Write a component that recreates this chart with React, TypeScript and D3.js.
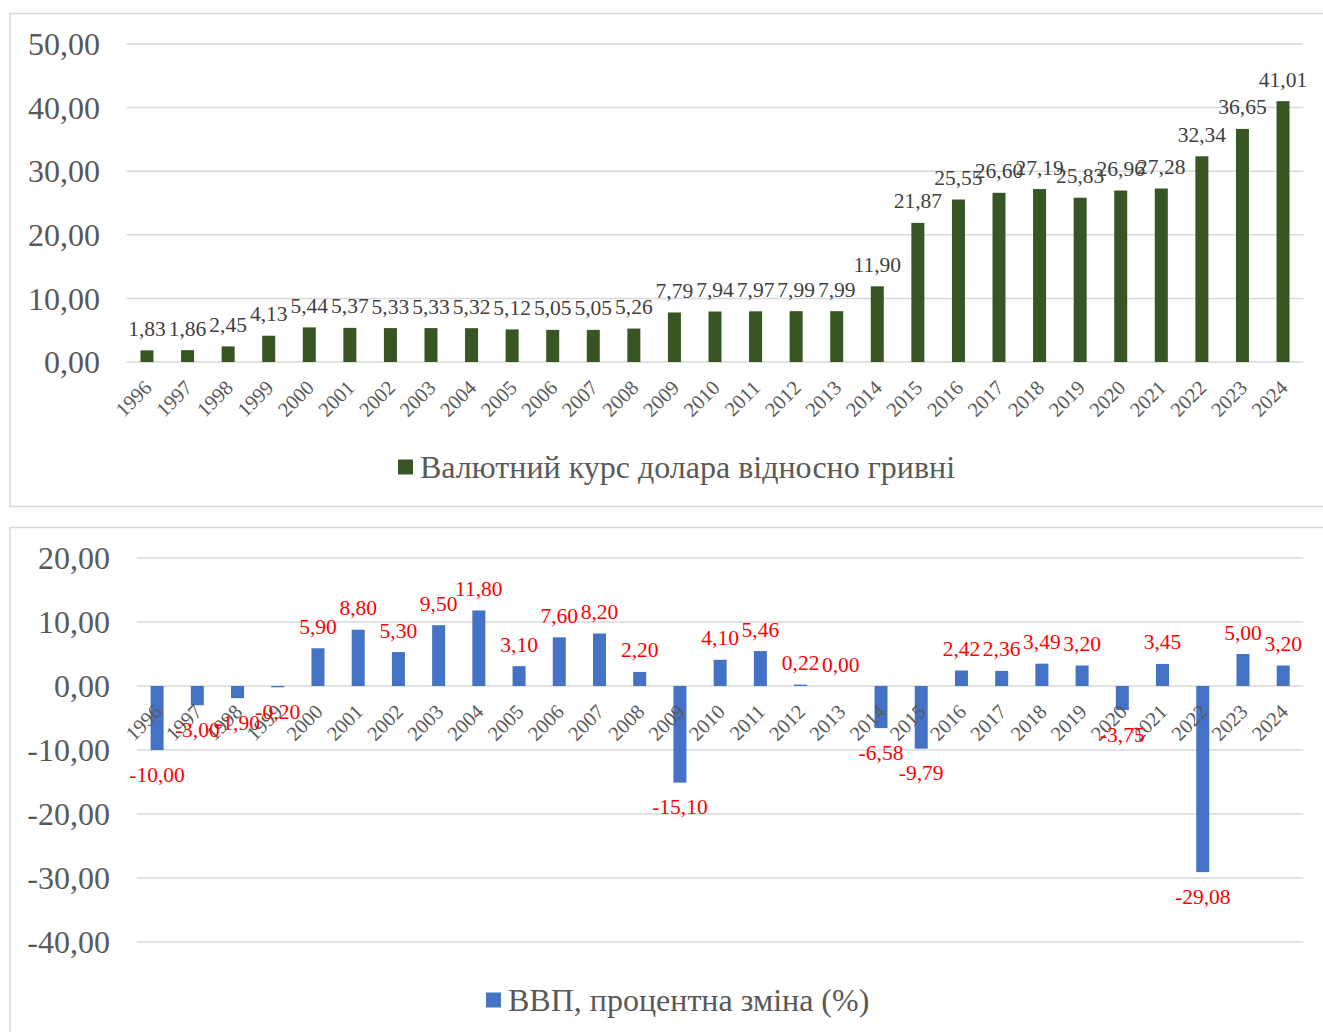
import React from "react";
import * as d3 from "d3";

const years = ["1996","1997","1998","1999","2000","2001","2002","2003","2004","2005","2006","2007","2008","2009","2010","2011","2012","2013","2014","2015","2016","2017","2018","2019","2020","2021","2022","2023","2024"];
const exchangeRate = [1.83,1.86,2.45,4.13,5.44,5.37,5.33,5.33,5.32,5.12,5.05,5.05,5.26,7.79,7.94,7.97,7.99,7.99,11.90,21.87,25.55,26.60,27.19,25.83,26.96,27.28,32.34,36.65,41.01];
const gdpChange = [-10.00,-3.00,-1.90,-0.20,5.90,8.80,5.30,9.50,11.80,3.10,7.60,8.20,2.20,-15.10,4.10,5.46,0.22,0.00,-6.58,-9.79,2.42,2.36,3.49,3.20,-3.75,3.45,-29.08,5.00,3.20];
const topTicks = [0,10,20,30,40,50];
const bottomTicks = [-40,-30,-20,-10,0,10,20];
const topLegend = "Валютний курс долара відносно гривні";
const bottomLegend = "ВВП, процентна зміна (%)";

const fmt = (v: number) => v.toFixed(2).replace(".", ",");
const FONT = "'Liberation Serif', 'Times New Roman', serif";

function Panel({ values, ticks, domain, yRange, xRange, color, labelColor, legend, legendY, legendX, yLabelX, barW }: any) {
  const x = d3.scaleBand().domain(years).range(xRange).paddingInner(0).paddingOuter(0);
  const y = d3.scaleLinear().domain(domain).range(yRange);
  const y0 = y(0);
  return (
    <g>
      {ticks.map((t: number) => (
        <g key={t}>
          <line x1={xRange[0]} x2={xRange[1]} y1={y(t)} y2={y(t)} stroke="#d9d9d9" strokeWidth={1.5} />
          <text x={yLabelX} y={y(t)} dy="0.35em" textAnchor="end" fontSize={32} fill="#595959" fontFamily={FONT}>{fmt(t)}</text>
        </g>
      ))}
      {values.map((v: number, i: number) => {
        const cx = x(years[i])! + x.bandwidth() / 2;
        const top = Math.min(y(v), y0);
        const h = Math.abs(y(v) - y0);
        return <rect key={i} x={cx - barW / 2} y={top} width={barW} height={h} fill={color} />;
      })}
      {years.map((yr, i) => {
        const cx = x(yr)! + x.bandwidth() / 2;
        const ax = cx + 6, ay = y0 + 27;
        return (
          <text key={yr} x={ax} y={ay} textAnchor="end" fontSize={20.5} fill="#595959" fontFamily={FONT} transform={`rotate(-45 ${ax} ${ay})`}>{yr}</text>
        );
      })}
      {values.map((v: number, i: number) => {
        const cx = x(years[i])! + x.bandwidth() / 2;
        const ly = v >= 0 ? y(v) - 22 : y(v) + 24;
        return <text key={i} x={cx} y={ly} dy="0.35em" textAnchor="middle" fontSize={21.5} fill={labelColor} fontFamily={FONT}>{fmt(v)}</text>;
      })}
      <rect x={legendX} y={legendY - 7.5} width={15} height={15} fill={color} />
      <text x={legendX + 22} y={legendY} dy="0.35em" fontSize={32} fill="#595959" fontFamily={FONT}>{legend}</text>
    </g>
  );
}

export default function App() {
  return (
    <svg width={1323} height={1032} style={{ position: "absolute", left: 0, top: 0, background: "#fff" }}>
      <rect x={0} y={0} width={1323} height={1032} fill="#fff" />
      <path d="M10,1032 V527.5 H1323" fill="none" stroke="#d9d9d9" strokeWidth={1.5} />
      <path d="M1323,506.5 H10 V13.5 H1323" fill="none" stroke="#d9d9d9" strokeWidth={1.5} />
      <Panel values={exchangeRate} ticks={topTicks} domain={[0, 50]} yRange={[362, 44]} xRange={[126.7, 1303.3]}
        color="#375623" labelColor="#404040" legend={topLegend} legendY={467} legendX={398} yLabelX={100} barW={13} />
      <Panel values={gdpChange} ticks={bottomTicks} domain={[-40, 20]} yRange={[942, 558]} xRange={[137, 1303.3]}
        color="#4472C4" labelColor="#FF0000" legend={bottomLegend} legendY={1000} legendX={486} yLabelX={110} barW={13} />
    </svg>
  );
}
